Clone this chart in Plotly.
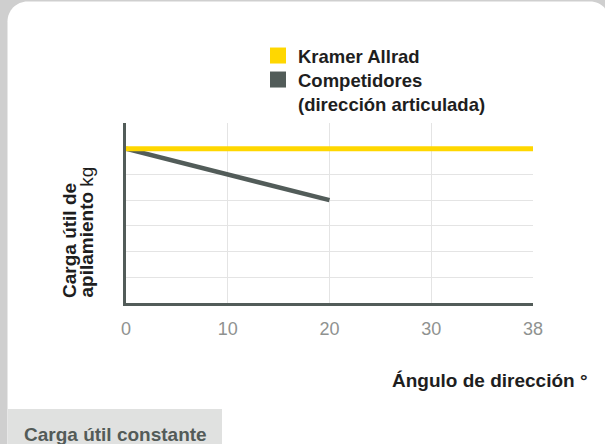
import plotly.graph_objects as go

# ---- data ----
angles = ["0", "10", "20", "30", "38"]
kramer_payload = [6, 6, 6, 6, 6]
competitor_angles = ["0", "10", "20"]
competitor_payload = [6, 5, 4]
y_grid = [0, 1, 2, 3, 4, 5, 6]

legend_kramer = "Kramer Allrad"
legend_comp = "Competidores<br>(dirección articulada)"
x_title = "<b>Ángulo de dirección °</b>"
y_title_1 = "<b>Carga útil de</b>"
y_title_2 = "<b>apilamiento</b> kg"
tab_text = "<b>Carga útil constante</b>"

# ---- layout helpers ----
W, H = 605, 444
ML, MR, MT, MB = 126, 72, 123, 141
PW = W - ML - MR
PH = H - MT - MB


def px(x):
    return (x - ML) / PW


def py(y):
    return (H - MB - y) / PH


def rounded_rect(x0, y0, x1, y1, r):
    k = 0.5523 * r
    pts = lambda x, y: f"{px(x):.5f},{py(y):.5f}"
    return (
        f"M {pts(x0 + r, y0)} L {pts(x1 - r, y0)} "
        f"C {pts(x1 - r + k, y0)} {pts(x1, y0 + r - k)} {pts(x1, y0 + r)} "
        f"L {pts(x1, y1 - r)} "
        f"C {pts(x1, y1 - r + k)} {pts(x1 - r + k, y1)} {pts(x1 - r, y1)} "
        f"L {pts(x0 + r, y1)} "
        f"C {pts(x0 + r - k, y1)} {pts(x0, y1 - r + k)} {pts(x0, y1 - r)} "
        f"L {pts(x0, y0 + r)} "
        f"C {pts(x0, y0 + r - k)} {pts(x0 + r - k, y0)} {pts(x0 + r, y0)} Z"
    )


YELLOW = "#ffd700"
GREY = "#525c59"
GRID = "#e4e4e4"
FONT = "Liberation Sans, Arial, sans-serif"
LEG_FONT = dict(family=FONT, size=18.5, color="#1e1e1e", weight="bold")

fig = go.Figure()
fig.add_trace(go.Scatter(x=competitor_angles, y=competitor_payload, mode="lines",
                         line=dict(color=GREY, width=4.5), showlegend=False, hoverinfo="skip"))
fig.add_trace(go.Scatter(x=angles, y=kramer_payload, mode="lines",
                         line=dict(color=YELLOW, width=5), showlegend=False, hoverinfo="skip"))
fig.add_trace(go.Scatter(x=[None], y=[None], mode="markers", name=legend_kramer, legend="legend",
                         marker=dict(symbol="square", size=16, color=YELLOW)))
fig.add_trace(go.Scatter(x=[None], y=[None], mode="markers", name=legend_comp, legend="legend2",
                         marker=dict(symbol="square", size=16, color=GREY)))

fig.update_layout(
    width=W, height=H,
    margin=dict(l=ML, r=MR, t=MT, b=MB, pad=0),
    paper_bgcolor="#cfcfcf",
    plot_bgcolor="rgba(0,0,0,0)",
    font=dict(family=FONT, color="#1e1e1e"),
    showlegend=True,
    legend=dict(
        x=px(258), y=py(37), xanchor="left", yanchor="top",
        font=LEG_FONT, valign="top", bgcolor="rgba(0,0,0,0)", borderwidth=0,
    ),
    legend2=dict(
        x=px(258), y=py(61), xanchor="left", yanchor="top",
        font=LEG_FONT, valign="top", bgcolor="rgba(0,0,0,0)", borderwidth=0,
    ),
    xaxis=dict(
        type="category", categoryorder="array", categoryarray=angles,
        range=[0, len(angles) - 1],
        showgrid=True, gridcolor=GRID, gridwidth=1,
        showline=True, linecolor=GREY, linewidth=2.5,
        ticks="", ticklabelstandoff=8,
        tickfont=dict(family=FONT, size=18, color="#8f9290"),
        zeroline=False, fixedrange=True,
    ),
    yaxis=dict(
        range=[0, 7], tickvals=y_grid, showticklabels=False,
        showgrid=True, gridcolor=GRID, gridwidth=1,
        showline=True, linecolor=GREY, linewidth=2.5,
        ticks="", zeroline=False, fixedrange=True,
    ),
    shapes=[
        dict(type="path", xref="paper", yref="paper", layer="below",
             path=rounded_rect(7.5, 1.5, 610, 470, 20),
             fillcolor="white", line=dict(width=0)),
        dict(type="rect", xref="paper", yref="paper", layer="below",
             x0=px(8), x1=px(222), y0=py(409), y1=py(450),
             fillcolor="#e0e1e0", line=dict(width=0)),
    ],
    annotations=[
        dict(text=x_title, xref="paper", yref="paper", x=px(590), y=py(380),
             xanchor="right", yanchor="middle", showarrow=False,
             font=dict(family=FONT, size=19, color="#1e1e1e")),
        dict(text=y_title_1, xref="paper", yref="paper", x=px(69.5), y=py(300),
             xanchor="center", yanchor="bottom", textangle=-90, showarrow=False,
             font=dict(family=FONT, size=19, color="#1e1e1e")),
        dict(text=y_title_2, xref="paper", yref="paper", x=px(86), y=py(300),
             xanchor="center", yanchor="bottom", textangle=-90, showarrow=False,
             font=dict(family=FONT, size=19, color="#1e1e1e")),
        dict(text=tab_text, xref="paper", yref="paper", x=px(21.5), y=py(434),
             xanchor="left", yanchor="middle", showarrow=False,
             font=dict(family=FONT, size=19, color="#535b58")),
    ],
)

fig.write_html("out.html", config={"displayModeBar": False},
               post_script="document.body.style.margin='0';document.body.style.overflow='hidden';")
